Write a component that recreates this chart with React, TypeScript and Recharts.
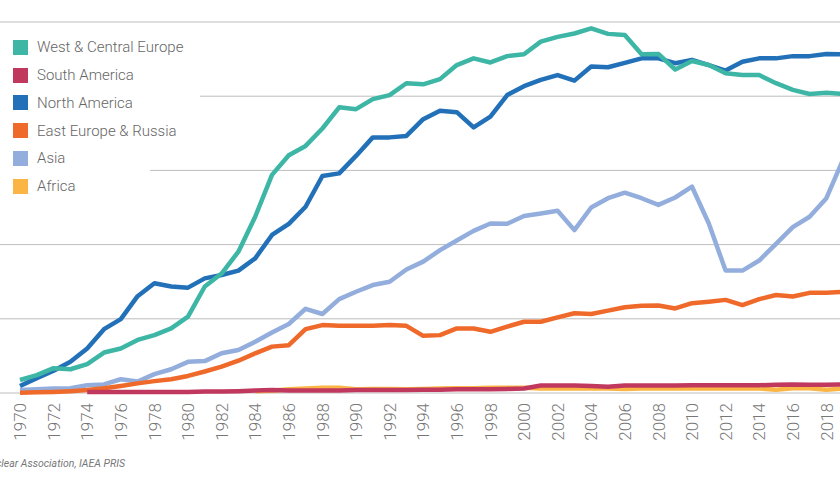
import React from 'react';
import { LineChart, Line, XAxis, YAxis, CartesianGrid } from 'recharts';

const years = [
  1970, 1971, 1972, 1973, 1974, 1975, 1976, 1977, 1978, 1979,
  1980, 1981, 1982, 1983, 1984, 1985, 1986, 1987, 1988, 1989,
  1990, 1991, 1992, 1993, 1994, 1995, 1996, 1997, 1998, 1999,
  2000, 2001, 2002, 2003, 2004, 2005, 2006, 2007, 2008, 2009,
  2010, 2011, 2012, 2013, 2014, 2015, 2016, 2017, 2018, 2019,
];

const westCentralEurope = [
  35, 48, 67, 64, 78, 109, 120, 143, 156, 174,
  206, 287, 322, 381, 475, 588, 641, 666, 713, 770,
  765, 792, 803, 835, 832, 846, 884, 902, 891, 908,
  913, 947, 960, 969, 983, 968, 965, 913, 914, 872,
  895, 884, 862, 857, 857, 835, 817, 806, 809, 806,
];

const southAmerica = [
  null, null, null, null, 3, 3, 3, 3, 3, 3,
  3, 4, 4, 5, 7, 8, 7, 7, 7, 7,
  8, 8, 8, 8, 9, 9, 10, 10, 10, 11,
  12, 20, 20, 20, 19, 17, 20, 20, 20, 20,
  21, 21, 21, 21, 21, 22, 23, 22, 22, 23,
];

const northAmerica = [
  19, 40, 60, 84, 120, 172, 199, 261, 296, 287,
  284, 309, 318, 330, 363, 426, 456, 502, 585, 592,
  639, 689, 689, 693, 738, 761, 757, 716, 745, 803,
  827, 844, 857, 842, 880, 878, 890, 902, 902, 889,
  898, 884, 869, 893, 902, 902, 908, 908, 914, 913,
];

const eastEuropeRussia = [
  1, 2, 3, 5, 8, 13, 19, 26, 32, 37,
  46, 58, 71, 87, 107, 125, 129, 172, 183, 181,
  181, 181, 183, 181, 154, 156, 174, 174, 165, 179,
  192, 192, 204, 215, 213, 222, 231, 235, 236, 228,
  242, 246, 251, 237, 253, 264, 260, 270, 270, 273,
];

const asia = [
  8, 10, 12, 13, 21, 23, 37, 31, 51, 64,
  84, 86, 107, 116, 138, 163, 186, 227, 213, 253,
  273, 291, 300, 333, 354, 385, 411, 437, 457, 456,
  477, 484, 491, 439, 500, 525, 540, 525, 507, 527,
  556, 457, 330, 330, 357, 402, 447, 475, 525, 630,
];

const africa = [
  null, null, null, null, null, null, null, null, null, null,
  null, null, null, null, 5, 6, 10, 12, 14, 14,
  10, 11, 11, 10, 11, 12, 13, 13, 14, 14,
  14, 12, 12, 12, 13, 12, 11, 12, 12, 12,
  12, 13, 12, 13, 12, 9, 13, 13, 9, 12,
];

const xTicks = [
  1970, 1972, 1974, 1976, 1978, 1980, 1982, 1984, 1986, 1988,
  1990, 1992, 1994, 1996, 1998, 2000, 2002, 2004, 2006, 2008,
  2010, 2012, 2014, 2016, 2018,
];
const yTicks = [0, 200, 400, 600, 800, 1000];

const series = [
  { key: 'westCentralEurope', name: 'West & Central Europe', color: '#3db6a6', values: westCentralEurope },
  { key: 'southAmerica', name: 'South America', color: '#c1385f', values: southAmerica },
  { key: 'northAmerica', name: 'North America', color: '#2271b8', values: northAmerica },
  { key: 'eastEuropeRussia', name: 'East Europe & Russia', color: '#ef6a2a', values: eastEuropeRussia },
  { key: 'asia', name: 'Asia', color: '#93aedc', values: asia },
  { key: 'africa', name: 'Africa', color: '#fab545', values: africa },
];

const data = years.map((year, i) => {
  const row: Record<string, number | null> = { year };
  series.forEach((s) => {
    row[s.key] = s.values[i];
  });
  return row;
});

const YearTick = ({ x, y, payload }: any) => (
  <g transform={`translate(${x},${y})`}>
    <text
      transform="rotate(-90)"
      textAnchor="end"
      dy="0.36em"
      fill="#777"
      fontSize={17}
      fontWeight={300}
      fontFamily="Roboto, sans-serif"
    >
      {payload.value}
    </text>
  </g>
);

const legendRow = (s: typeof series[number]) => (
  <div key={s.key} style={{ height: 27.8, display: 'flex', alignItems: 'center' }}>
    <span style={{ width: 15, height: 15, background: s.color, marginLeft: 13, marginRight: 9 }} />
    <span style={{ fontSize: 15, color: '#666', fontWeight: 300 }}>{s.name}</span>
  </div>
);

export default function App() {
  return (
    <div
      style={{
        position: 'absolute',
        left: 0,
        top: 0,
        width: 840,
        height: 480,
        overflow: 'hidden',
        background: '#fff',
        fontFamily: 'Roboto, sans-serif',
      }}
    >
      <LineChart width={900} height={480} data={data} margin={{ top: 22, right: 0, bottom: 27, left: 0 }}>
        <CartesianGrid vertical={false} stroke="#bdbdbd" strokeWidth={1} />
        <XAxis
          dataKey="year"
          type="number"
          domain={[1970, 2019]}
          ticks={xTicks}
          interval={0}
          padding={{ left: 20, right: 56.8 }}
          axisLine={false}
          tickLine={false}
          tickSize={0}
          tickMargin={10}
          height={60}
          tick={<YearTick />}
        />
        <YAxis hide domain={[0, 1000]} ticks={yTicks} />
        {[...series].reverse().map((s) => (
          <Line
            key={s.key}
            dataKey={s.key}
            name={s.name}
            type="linear"
            stroke={s.color}
            strokeWidth={4.5}
            strokeLinejoin="round"
            dot={false}
            activeDot={false}
            isAnimationActive={false}
          />
        ))}
      </LineChart>

      <div style={{ position: 'absolute', left: 0, top: 33.4 }}>
        <div style={{ width: 200, background: '#fff' }}>{series.slice(0, 4).map(legendRow)}</div>
        <div style={{ width: 150, background: '#fff' }}>{series.slice(4).map(legendRow)}</div>
      </div>

      <div
        style={{
          position: 'absolute',
          right: 715,
          top: 457,
          whiteSpace: 'nowrap',
          fontStyle: 'italic',
          fontSize: 10.5,
          color: '#777',
        }}
      >
        Source: World Nuclear Association, IAEA PRIS
      </div>
    </div>
  );
}
